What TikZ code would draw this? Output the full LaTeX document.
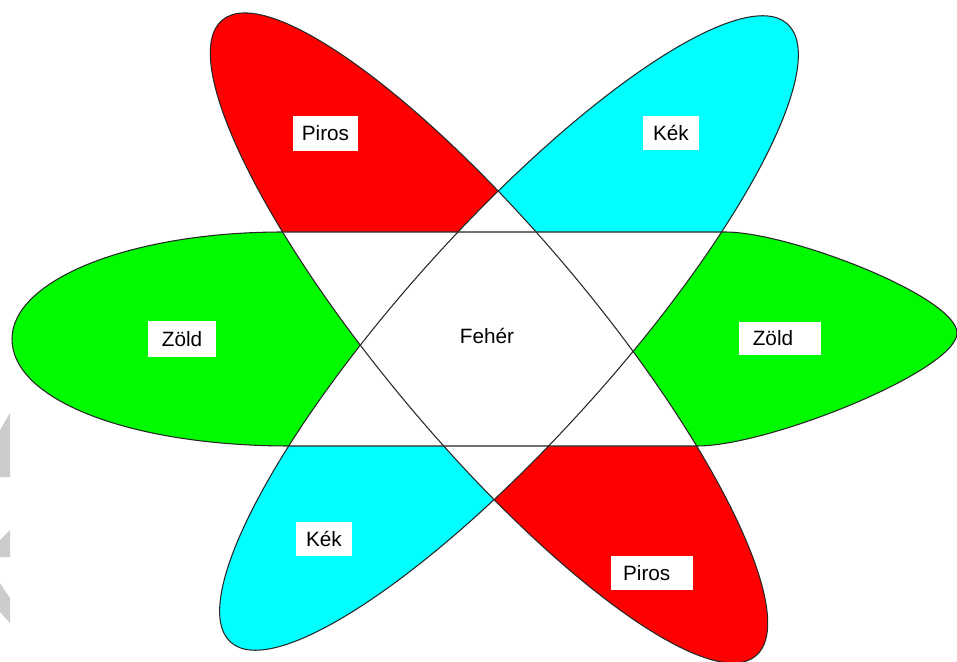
\documentclass[tikz,border=0pt]{standalone}
\usepackage{fontspec}
\setmainfont{Liberation Sans}
\definecolor{pirosred}{RGB}{255,0,0}
\definecolor{kekcyan}{RGB}{0,255,255}
\definecolor{zoldgreen}{RGB}{0,250,0}
\definecolor{markgray}{RGB}{204,204,204}
\tikzset{
  zoldshape/.style={insert path={(12,339) .. controls (12,280) and (130,232) .. (283,232)
      -- (725,232) .. controls (790,232) and (957,297) .. (957,333)
      .. controls (957,370) and (770,446) .. (697,446)
      -- (290,446) .. controls (130,446) and (12,400) .. (12,339) -- cycle}},
  pirosshape/.style={rotate around={-50:(489,338)},
      insert path={(489,338) ellipse (415 and 105)}},
  kekshape/.style={rotate around={48:(509,333)},
      insert path={(509,333) ellipse (416 and 106)}},
  rim/.style={draw=black!85, line width=0.6pt},
  lbl/.style={fill=white, inner sep=0pt, align=center,
              font=\fontsize{11.8}{14}\selectfont},
}

\begin{document}
\begin{tikzpicture}[x=0.02cm,y=-0.02cm]
  \path[use as bounding box, fill=white] (0,0) rectangle (957,662);

  % the three petals
  \fill[zoldgreen, zoldshape];
  \fill[pirosred, pirosshape];
  \fill[kekcyan, kekshape];

  % overlaps stay white
  \begin{scope}
    \clip[zoldshape];
    \fill[white, pirosshape];
    \fill[white, kekshape];
  \end{scope}
  \begin{scope}
    \clip[pirosshape];
    \fill[white, kekshape];
  \end{scope}

  \path[rim, zoldshape];
  \path[rim, pirosshape];
  \path[rim, kekshape];

  \node[lbl, minimum width=37pt, minimum height=19.9pt] (pirosA) at (325.5,133.5) {Piros};
  \node[lbl, minimum width=32.4pt, minimum height=18.8pt] (kekA) at (671,133) {Kék};
  \node[lbl, minimum width=38.7pt, minimum height=20.5pt] (zoldA) at (182,339) {Zöld};
  \node[lbl, minimum width=46.7pt, minimum height=18.8pt] (zoldB) at (780,338.5) {Zöld\hspace{8pt}};
  \node[lbl, minimum width=32.4pt, minimum height=18.8pt] (kekB) at (324,539) {Kék};
  \node[lbl, minimum width=47pt, minimum height=19.9pt] (pirosB) at (652,573) {Piros\hspace{6pt}};
  \node[lbl] (feher) at (487,336) {Fehér};

  % grey marks at the left edge
  \fill[markgray] (0,430) -- (10,413) -- (10,477) -- (0,477) -- cycle;
  \fill[markgray] (0,540) -- (10,530) -- (10,557) -- (0,557) -- cycle;
  \fill[markgray] (0,583) -- (10,598) -- (10,623) -- (0,612) -- cycle;
\end{tikzpicture}
\end{document}
